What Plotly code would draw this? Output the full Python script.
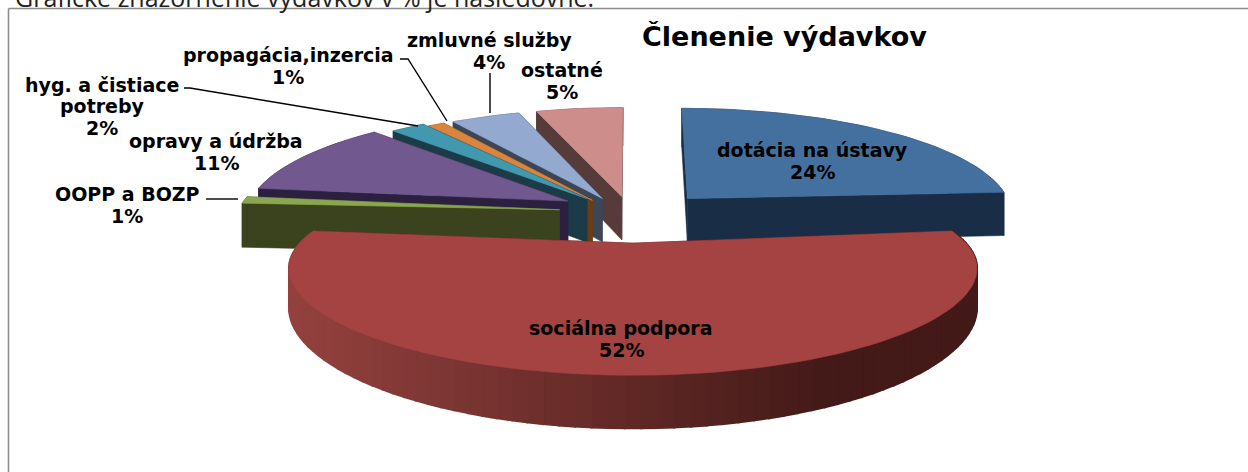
import numpy as np
import plotly.graph_objects as go

# ---- data ----
categories = ["dotácia na ústavy", "sociálna podpora", "OOPP a BOZP", "opravy a údržba",
              "hyg. a čistiace|potreby", "propagácia,inzercia", "zmluvné služby", "ostatné"]
values = [24, 52, 1, 11, 2, 1, 4, 5]
title_text = "Členenie výdavkov"
caption_text = "Grafické znázornenie výdavkov v % je nasledovné:"

# ---- styles ----
top_colors = ["#44709f", "#a44341", "#8aa64e", "#71588f", "#4198af", "#db843d", "#93a9cf", "#cd8d8a"]
side_colors = ["#1a2d46", "#431a18", "#3a431d", "#2c2040", "#1a3b47", "#6b3d15", "#3d4656", "#573b3b"]
draw_order = [7, 6, 5, 4, 3, 2, 0, 1]
label_xy = [(812, 161), (621, 339), (127, 205), (216, 152), (102, 106), (288, 66), (489, 51), (562, 81)]
LINE_PITCH = 21.5
leaders = [((408, 59), (447, 121)), ((190, 88), (418, 126)), ((490, 73), (490, 113)), ((206, 199), (238, 199))]
leader_elbows = [(400, 59), (184, 88), None, None]

# perspective projection of the tilted pie: one view per slice
EXPLODE = 0.23
BACK = dict(cx=633, cy=220, r=322, h=106, p=0.128, t=44.5, bend=0.0)
views = [
    dict(BACK, cx=637, cy=216, r=327),
    dict(cx=633, cy=224, r=311, h=77.6, p=0.30, t=33.5, bend=0.08),
    dict(BACK, cy=212),
    dict(BACK, cy=212),
    dict(BACK, cy=217),
    dict(BACK),
    dict(BACK),
    dict(BACK),
]


def project(u, v, view, drop=0.0):
    s = 1.0 / (1.0 + view["p"] * v)
    return view["cx"] + view["r"] * u * s, view["cy"] - view["h"] * v * s + drop * s


def poly(x, y, color, lw=0.6):
    return go.Scatter(x=list(x) + [x[0]], y=list(y) + [y[0]], mode="lines", fill="toself",
                      fillcolor=color, line=dict(color=color, width=lw), hoverinfo="skip", showlegend=False)


def mix(a, b, t):
    a = np.array([int(a[i:i + 2], 16) for i in (1, 3, 5)])
    b = np.array([int(b[i:i + 2], 16) for i in (1, 3, 5)])
    c = (a + (b - a) * t).astype(int)
    return "#%02x%02x%02x" % tuple(c)


fractions = np.array(values) / sum(values)
edges = np.concatenate([[0], np.cumsum(fractions)]) * 2 * np.pi

fig = go.Figure()
for i in draw_order:
    view = views[i]
    a0, a1 = edges[i], edges[i + 1]
    mid = (a0 + a1) / 2
    ou, ov = EXPLODE * np.sin(mid), EXPLODE * np.cos(mid)
    ang = np.linspace(a0, a1, max(8, int((a1 - a0) * 30)))
    us = np.sin(ang) + ou
    vs = np.cos(ang) + ov + view["bend"] * np.sin(ang) ** 2

    ax_t, ay_t = project(ou, ov, view)
    ax_b, ay_b = project(ou, ov, view, view["t"])
    tx, ty = project(us, vs, view)
    bx, by = project(us, vs, view, view["t"])

    # radial faces
    fig.add_trace(poly([ax_t, tx[0], bx[0], ax_b], [ay_t, ty[0], by[0], ay_b], side_colors[i]))
    fig.add_trace(poly([ax_t, tx[-1], bx[-1], ax_b], [ay_t, ty[-1], by[-1], ay_b], side_colors[i]))
    # outer wall
    if i == 1:
        for k in range(len(ang) - 1):
            t = (tx.max() - (tx[k] + tx[k + 1]) / 2) / (tx.max() - tx.min())
            col = mix("#431a18", "#95423f", min(1.0, max(0.0, (t - 0.22) / 0.78)))
            fig.add_trace(poly([tx[k], tx[k + 1], bx[k + 1], bx[k]], [ty[k], ty[k + 1], by[k + 1], by[k]], col, 2))
    else:
        fig.add_trace(poly(list(tx) + list(bx[::-1]), list(ty) + list(by[::-1]), side_colors[i]))
    # top face
    fig.add_trace(poly([ax_t] + list(tx), [ay_t] + list(ty), top_colors[i]))

# leader lines
for (p0, p1), elbow in zip(leaders, leader_elbows):
    xs = ([elbow[0]] if elbow else []) + [p0[0], p1[0]]
    ys = ([elbow[1]] if elbow else []) + [p0[1], p1[1]]
    fig.add_trace(go.Scatter(x=xs, y=ys, mode="lines", line=dict(color="#000000", width=1.4),
                             hoverinfo="skip", showlegend=False))

annotations = []
for cat, val, (x, y) in zip(categories, values, label_xy):
    lines = cat.split("|") + [f"{val}%"]
    y0 = y - LINE_PITCH * (len(lines) - 1) / 2
    for j, line in enumerate(lines):
        annotations.append(dict(x=x, y=y0 + j * LINE_PITCH, xref="x", yref="y", showarrow=False, align="center",
                                text=f"<b>{line}</b>",
                                font=dict(family="DejaVu Sans", size=19, color="#000000")))
annotations.append(dict(x=640, y=36, xref="x", yref="y", xanchor="left", showarrow=False,
                        text=f"<b>{title_text}</b>",
                        font=dict(family="DejaVu Sans", size=27, color="#000000")))
annotations.append(dict(x=13, y=1.0, xref="x", yref="paper", xanchor="left", yanchor="middle", yshift=3,
                        showarrow=False, text=caption_text,
                        font=dict(family="Open Sans", size=25, color="#222222")))

fig.update_layout(
    width=1248, height=472, margin=dict(l=0, r=0, t=0, b=0),
    paper_bgcolor="#ffffff", plot_bgcolor="#ffffff", showlegend=False,
    xaxis=dict(range=[0, 1248], visible=False, fixedrange=True),
    yaxis=dict(range=[472, 0], visible=False, fixedrange=True),
    annotations=annotations,
    shapes=[dict(type="line", x0=8.5, x1=1248, y0=8.5, y1=8.5, xref="x", yref="y", line=dict(color="#8c8c8c", width=1.6)),
            dict(type="line", x0=8.5, x1=8.5, y0=8.5, y1=472, xref="x", yref="y", line=dict(color="#8c8c8c", width=1.6))],
)
fig.write_html("out.html", config=dict(displayModeBar=False),
               post_script="document.body.style.margin='0';document.body.style.overflow='hidden';")
